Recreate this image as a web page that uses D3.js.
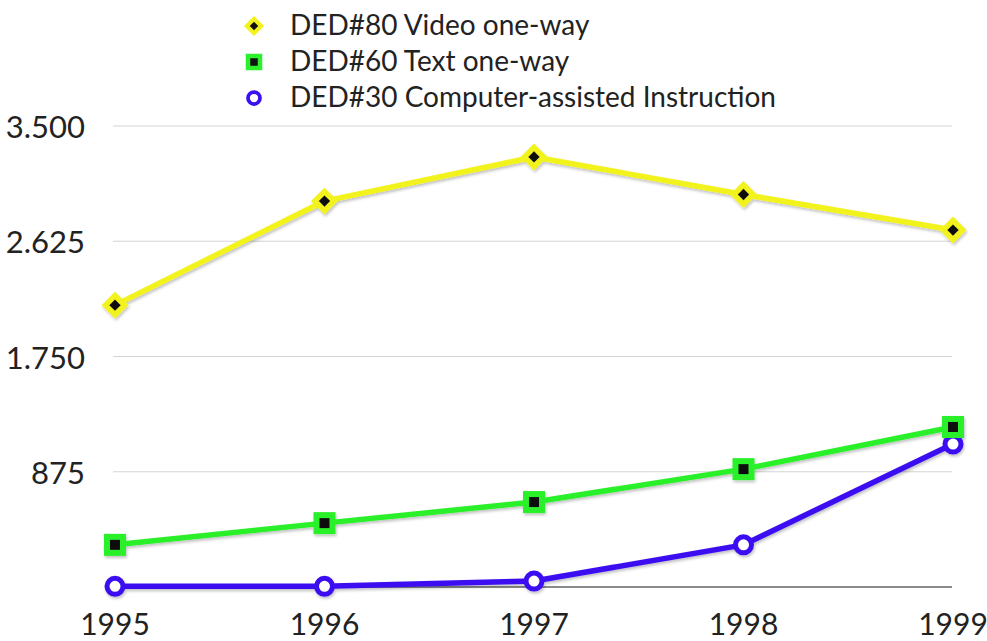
<!DOCTYPE html>
<html>
<head>
<meta charset="utf-8">
<script src="https://cdn.jsdelivr.net/npm/d3@7"></script>
<style>
  body { margin: 0; background: #fff; }
  svg { font-family: "Lato", "Open Sans", sans-serif; }
</style>
</head>
<body>
<div id="chart-area"></div>
<script>
// values
let years = ["1995", "1996", "1997", "1998", "1999"];
let video = [2140, 2930, 3265, 2980, 2710];
let text = [320, 485, 645, 895, 1215];
let cai = [5, 5, 45, 320, 1085];
let yTicks = [0, 875, 1750, 2625, 3500];
let tickLabels = ["", "875", "1.750", "2.625", "3.500"];
let names = ["DED#80 Video one-way", "DED#60 Text one-way", "DED#30 Computer-assisted Instruction"];

let svg = d3.select('#chart-area')
            .append('svg')
            .attr('width', 987)
            .attr('height', 641);

let defs = svg.append("defs");
let f = defs.append("filter").attr("id", "shadow")
            .attr("x", "-10%").attr("y", "-10%")
            .attr("width", "120%").attr("height", "130%");
f.append("feDropShadow")
 .attr("dx", 1).attr("dy", 2).attr("stdDeviation", 1.5)
 .attr("flood-color", "#000").attr("flood-opacity", 0.25);

let x = d3.scalePoint()
        .domain(years)
        .range([115, 953]);

let y = d3.scaleLinear()
        .domain([0, 3500])
        .range([587, 126]);

// gridlines
svg.selectAll(".grid")
   .data(yTicks)
   .enter()
   .append("line")
   .attr("x1", 113)
   .attr("x2", 952)
   .attr("y1", d => y(d))
   .attr("y2", d => y(d))
   .attr("stroke", function(d){ return d == 0 ? "#8a8a8a" : "#d4d4d4"; })
   .attr("stroke-width", function(d){ return d == 0 ? 2 : 1.2; });

// y labels
svg.selectAll(".ylab")
   .data(yTicks)
   .enter()
   .append("text")
   .attr("x", 85)
   .attr("y", d => y(d) + 12)
   .attr("text-anchor", "end")
   .attr("font-size", 31)
   .attr("fill", "#222")
   .text((d, i) => tickLabels[i]);

// x labels
svg.selectAll(".xlab")
   .data(years)
   .enter()
   .append("text")
   .attr("x", d => x(d))
   .attr("y", 635)
   .attr("text-anchor", "middle")
   .attr("font-size", 30)
   .attr("fill", "#222")
   .text(d => d);

let line = d3.line()
        .x((d, i) => x(years[i]))
        .y(d => y(d));

let series = [
  { values: video, color: "#f2f21c", kind: "diamond" },
  { values: text, color: "#2cf02c", kind: "square" },
  { values: cai, color: "#3a10f0", kind: "circle" }
];

let g = svg.append("g").attr("filter", "url(#shadow)");

[series[2], series[1], series[0]].forEach(function(s){
  g.append("path")
   .datum(s.values)
   .attr("d", line)
   .attr("fill", "none")
   .attr("stroke", s.color)
   .attr("stroke-width", 5.5)
   .attr("stroke-linejoin", "round");

  let pts = g.selectAll(null)
             .data(s.values)
             .enter()
             .append("g")
             .attr("transform", (d, i) => "translate(" + x(years[i]) + "," + y(d) + ")");

  drawMarker(pts, s, 1);
});

function drawMarker(sel, s, k){
  if (s.kind == "diamond") {
    sel.append("rect")
       .attr("x", -9.5 * k).attr("y", -9.5 * k)
       .attr("width", 19 * k).attr("height", 19 * k)
       .attr("transform", "rotate(45)")
       .attr("fill", s.color);
    sel.append("rect")
       .attr("x", -4 * k).attr("y", -4 * k)
       .attr("width", 8 * k).attr("height", 8 * k)
       .attr("transform", "rotate(45)")
       .attr("fill", "#111");
  } else if (s.kind == "square") {
    sel.append("rect")
       .attr("x", -11 * k).attr("y", -11 * k)
       .attr("width", 22 * k).attr("height", 22 * k)
       .attr("fill", s.color);
    sel.append("rect")
       .attr("x", -5 * k).attr("y", -5 * k)
       .attr("width", 10 * k).attr("height", 10 * k)
       .attr("fill", "#111");
  } else {
    sel.append("circle")
       .attr("r", 8 * k)
       .attr("fill", "#fff")
       .attr("stroke", s.color)
       .attr("stroke-width", 5 * k);
  }
}

// legend
let legend = svg.selectAll(".legend")
                .data(series)
                .enter()
                .append("g")
                .attr("transform", (d, i) => "translate(254," + (26 + i * 36) + ")");

legend.each(function(s){
  drawMarker(d3.select(this), s, 0.75);
});

legend.append("text")
      .attr("x", 36)
      .attr("y", 9)
      .attr("font-size", 28)
      .attr("fill", "#222")
      .text((d, i) => names[i]);
</script>
</body>
</html>
